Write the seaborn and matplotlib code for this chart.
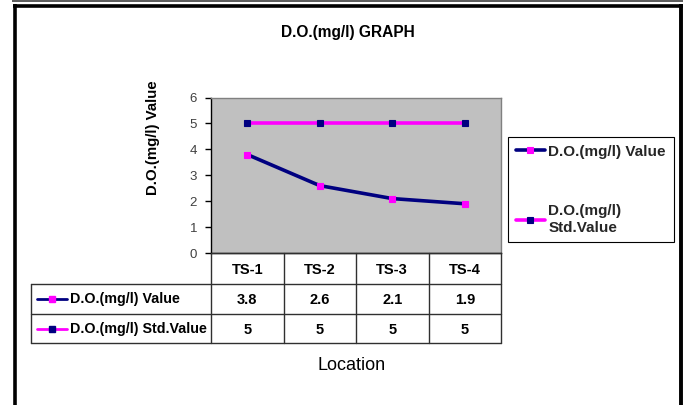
import matplotlib
matplotlib.use("Agg")
import matplotlib.pyplot as plt
from matplotlib.lines import Line2D
import seaborn as sns
import pandas as pd

# Chart data
locations = ["TS-1", "TS-2", "TS-3", "TS-4"]
do_value = [3.8, 2.6, 2.1, 1.9]
do_std = [5, 5, 5, 5]
series_names = ["D.O.(mg/l) Value", "D.O.(mg/l) Std.Value"]
legend_labels = ["D.O.(mg/l) Value", "D.O.(mg/l)\nStd.Value"]
y_ticks = [0, 1, 2, 3, 4, 5, 6]

NAVY = "#000080"
MAGENTA = "#FF00FF"
W, H = 688, 405

sns.set_theme(style="white")
plt.rcParams["font.family"] = ["Liberation Sans", "DejaVu Sans"]

rows = []
for i, loc in enumerate(locations):
    rows.append({"pos": i, "Location": loc, "series": series_names[0], "value": do_value[i]})
    rows.append({"pos": i, "Location": loc, "series": series_names[1], "value": do_std[i]})
df = pd.DataFrame(rows)


def fx(px):
    return px / W


def fy(py):
    return 1 - py / H


fig = plt.figure(figsize=(W / 100, H / 100), dpi=100)

# plot area
PX0, PX1, PY0, PY1 = 211, 501, 97.5, 253
ax = fig.add_axes([fx(PX0), fy(PY1), (PX1 - PX0) / W, (PY1 - PY0) / H])
ax.set_facecolor("#C0C0C0")

styles = {
    series_names[0]: dict(color=NAVY, mfc=MAGENTA, mec=MAGENTA),
    series_names[1]: dict(color=MAGENTA, mfc=NAVY, mec=NAVY),
}
for name in series_names:
    st = styles[name]
    sns.lineplot(data=df[df["series"] == name], x="pos", y="value", ax=ax,
                 color=st["color"], linewidth=2.6, marker="s", markersize=5,
                 markerfacecolor=st["mfc"], markeredgecolor=st["mec"],
                 markeredgewidth=0.8, label=name, legend=False, zorder=3)

ax.set_xlim(-0.5, len(locations) - 0.5)
ax.set_ylim(0, 6)
ax.set_yticks(y_ticks)
ax.set_yticklabels([str(t) for t in y_ticks], fontsize=9.5, color="#404040")
ax.set_xticks([])
ax.set_xlabel("")
ax.set_ylabel("")
ax.tick_params(axis="y", direction="out", length=4, width=1, color="black",
               pad=6, left=True)
for side, col in [("left", "black"), ("bottom", "black"), ("top", "#808080"), ("right", "#808080")]:
    ax.spines[side].set_color(col)
    ax.spines[side].set_linewidth(1)
    ax.spines[side].set_visible(True)

# overlay for frame, data table and labels (pixel coordinates)
ov = fig.add_axes([0, 0, 1, 1], facecolor="none")
ov.set_xlim(0, W)
ov.set_ylim(H, 0)
ov.axis("off")

# outer chart frame
ov.plot([12, 683], [0.8, 0.8], color="#404040", lw=1.2, solid_capstyle="butt")
ov.plot([13, 683], [5.5, 5.5], color="black", lw=2.6, solid_capstyle="butt")
ov.plot([14.5, 14.5], [4, H], color="black", lw=2.6, solid_capstyle="butt")
ov.plot([681, 681], [4, H], color="black", lw=2.8, solid_capstyle="butt")

# data table
col_edges = [PX0 + (PX1 - PX0) * k / len(locations) for k in range(len(locations) + 1)]
row_y = [PY1, 284, 314, 343]
TL = 31
gc = "#303030"
ov.plot([PX0, PX1], [row_y[0], row_y[0]], color=gc, lw=1)
for yy in row_y[1:]:
    ov.plot([TL, PX1], [yy, yy], color=gc, lw=1)
ov.plot([TL, TL], [row_y[1], row_y[3]], color=gc, lw=1)
for xx in col_edges:
    ov.plot([xx, xx], [row_y[0], row_y[3]], color=gc, lw=1)

TFS = 10.3
for k, loc in enumerate(locations):
    cx = (col_edges[k] + col_edges[k + 1]) / 2
    ov.text(cx, (row_y[0] + row_y[1]) / 2 + 1, loc, ha="center", va="center",
            fontsize=10.5, fontweight="bold", color="black")
    ov.text(cx, (row_y[1] + row_y[2]) / 2 + 1, f"{do_value[k]:g}", ha="center", va="center",
            fontsize=10.5, fontweight="bold", color="black")
    ov.text(cx, (row_y[2] + row_y[3]) / 2 + 1, f"{do_std[k]:g}", ha="center", va="center",
            fontsize=10.5, fontweight="bold", color="black")

for r, name in enumerate(series_names):
    st = styles[name]
    cy = (row_y[r + 1] + row_y[r + 2]) / 2
    ov.add_line(Line2D([37, 67], [cy, cy], color=st["color"], lw=2))
    ov.add_line(Line2D([52], [cy], marker="s", markersize=4.5, mfc=st["mfc"],
                       mec=st["mec"], ls="none"))
    ov.text(69.5, cy + 0.5, name, ha="left", va="center", fontsize=TFS,
            fontweight="bold", color="black")

# titles
fig.text(fx(347.5), fy(33), "D.O.(mg/l) GRAPH", ha="center", va="center",
         fontsize=11.2, fontweight="bold", color="black")
fig.text(fx(153), fy(138), "D.O.(mg/l) Value", ha="center", va="center",
         rotation=90, fontsize=10.8, fontweight="bold", color="black")
fig.text(fx(352), fy(365), "Location", ha="center", va="center",
         fontsize=13, color="black")

# legend
leg = fig.legend(handles=ax.get_lines(), labels=legend_labels, loc="upper left",
                 bbox_to_anchor=(fx(508), fy(137)), frameon=True, fancybox=False,
                 edgecolor="black", framealpha=1, borderaxespad=0,
                 prop={"size": 11, "weight": "bold"}, handlelength=1.9,
                 handletextpad=0.25, labelspacing=3.0, borderpad=0.5)
leg.get_frame().set_linewidth(0.8)

fig.savefig("out.png", dpi=100)
